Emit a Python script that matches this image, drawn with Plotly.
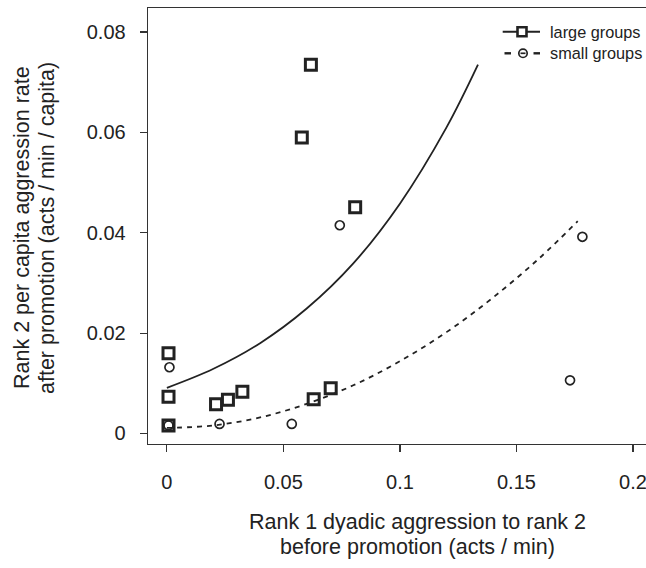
import plotly.graph_objects as go

# Large groups (squares)
large_x = [0.0007, 0.0007, 0.0007, 0.0211, 0.0262, 0.0324, 0.0630, 0.0703, 0.0618, 0.0579, 0.0808]
large_y = [0.0160, 0.0073, 0.0016, 0.0058, 0.0067, 0.0083, 0.0068, 0.0090, 0.0735, 0.0590, 0.0451]

# Small groups (circles)
small_x = [0.0011, 0.0007, 0.0226, 0.0536, 0.0742, 0.1783, 0.1730]
small_y = [0.0132, 0.0016, 0.0019, 0.0019, 0.0415, 0.0392, 0.0106]

# Fitted curves at regular x steps
fit_large_x = [0.0, 0.02, 0.04, 0.06, 0.08, 0.10, 0.12, 0.1335]
fit_large_y = [0.0091, 0.0129, 0.0180, 0.0249, 0.0339, 0.0458, 0.0610, 0.0735]
fit_small_x = [0.0, 0.02, 0.04, 0.06, 0.08, 0.10, 0.12, 0.14, 0.16, 0.1763]
fit_small_y = [0.0011, 0.0016, 0.0032, 0.0059, 0.0096, 0.0144, 0.0202, 0.0271, 0.0350, 0.0423]

x_ticks = [0, 0.05, 0.1, 0.15, 0.2]
x_tick_labels = ["0", "0.05", "0.1", "0.15", "0.2"]
y_ticks = [0, 0.02, 0.04, 0.06, 0.08]
y_tick_labels = ["0", "0.02", "0.04", "0.06", "0.08"]
legend_labels = ["large groups", "small groups"]

INK = "#222222"
FONT = "Liberation Sans, Arial, sans-serif"

fig = go.Figure()
fig.add_trace(go.Scatter(x=fit_large_x, y=fit_large_y, mode="lines",
                         line=dict(color=INK, width=1.8, shape="spline", smoothing=1), showlegend=False))
fig.add_trace(go.Scatter(x=fit_small_x, y=fit_small_y, mode="lines",
                         line=dict(color=INK, width=1.8, dash="5px,5px", shape="spline", smoothing=1), showlegend=False))
fig.add_trace(go.Scatter(x=large_x, y=large_y, mode="markers",
                         marker=dict(symbol="square-open", size=11, color=INK, line=dict(width=3, color=INK)), showlegend=False))
fig.add_trace(go.Scatter(x=small_x, y=small_y, mode="markers",
                         marker=dict(symbol="circle-open", size=9, color=INK, line=dict(width=1.7, color=INK)), showlegend=False))

W, H = 646, 568
L, R, T, B = 148, 0, 8, 124
pw = W - L - R
ph = H - T - B

fig.update_layout(
    template="none",
    width=W, height=H,
    margin=dict(l=L, r=R, t=T, b=B, pad=0, autoexpand=False),
    paper_bgcolor="white", plot_bgcolor="white",
    font=dict(family=FONT, color=INK, size=20),
    showlegend=False,
    hovermode=False,
    xaxis=dict(range=[-0.0081, 0.2056], tickvals=x_ticks, ticktext=x_tick_labels, automargin=False,
               showgrid=False, zeroline=False, showline=True, mirror=True, linecolor="#333", linewidth=1.3,
               ticks="outside", ticklen=7, tickwidth=1.2, tickcolor="#333", ticklabelstandoff=13,
               ticklabeloverflow="allow", tickfont=dict(size=20, color=INK)),
    yaxis=dict(range=[-0.0021, 0.0848], tickvals=y_ticks, ticktext=y_tick_labels, automargin=False,
               showgrid=False, zeroline=False, showline=True, mirror=False, linecolor="#333", linewidth=1.3,
               ticks="outside", ticklen=7, tickwidth=1.2, tickcolor="#333", ticklabelstandoff=10,
               ticklabeloverflow="allow", tickfont=dict(size=20, color=INK)),
)

def px(xpix):  # window pixel -> paper x
    return (xpix - L) / pw

def py(ypix):  # window pixel -> paper y
    return 1 - (ypix - T) / ph

TF = 21.5
fig.add_annotation(text="Rank 1 dyadic aggression to rank 2", xref="paper", yref="paper",
                   x=px(417), y=py(521.7), showarrow=False, font=dict(size=TF, color=INK),
                   xanchor="center", yanchor="middle")
fig.add_annotation(text="before promotion (acts / min)", xref="paper", yref="paper",
                   x=px(417), y=py(547), showarrow=False, font=dict(size=TF, color=INK),
                   xanchor="center", yanchor="middle")
fig.add_annotation(text="Rank 2 per capita aggression rate", xref="paper", yref="paper",
                   x=px(22), y=py(228), showarrow=False, textangle=-90, font=dict(size=TF, color=INK),
                   xanchor="center", yanchor="middle")
fig.add_annotation(text="after promotion (acts / min / capita)", xref="paper", yref="paper",
                   x=px(47), y=py(228), showarrow=False, textangle=-90, font=dict(size=TF, color=INK),
                   xanchor="center", yanchor="middle")

# Hand-drawn legend (top right)
row_y = [31.7, 53.3]
fig.add_shape(type="line", xref="paper", yref="paper", x0=px(502.7), x1=px(540), y0=py(row_y[0]), y1=py(row_y[0]),
              line=dict(color=INK, width=2))
fig.add_shape(type="rect", xref="paper", yref="paper", xsizemode="pixel", ysizemode="pixel",
              xanchor=px(522), yanchor=py(row_y[0]), x0=-4.5, x1=4.5, y0=-4.5, y1=4.5,
              line=dict(color=INK, width=2.6), fillcolor="white")
fig.add_shape(type="line", xref="paper", yref="paper", x0=px(504.5), x1=px(511), y0=py(row_y[1]), y1=py(row_y[1]),
              line=dict(color=INK, width=2.4))
fig.add_shape(type="line", xref="paper", yref="paper", x0=px(533.5), x1=px(540), y0=py(row_y[1]), y1=py(row_y[1]),
              line=dict(color=INK, width=2.4))
fig.add_shape(type="circle", xref="paper", yref="paper", xsizemode="pixel", ysizemode="pixel",
              xanchor=px(523), yanchor=py(row_y[1]), x0=-4.2, x1=4.2, y0=-4.2, y1=4.2,
              line=dict(color=INK, width=1.7), fillcolor="white")
fig.add_shape(type="line", xref="paper", yref="paper", x0=px(520.5), x1=px(525.5), y0=py(row_y[1]), y1=py(row_y[1]),
              line=dict(color=INK, width=1.7))
for lab, yy in zip(legend_labels, row_y):
    fig.add_annotation(text=lab, xref="paper", yref="paper", x=px(548), y=py(yy), showarrow=False,
                       xanchor="left", yanchor="middle", font=dict(size=16.3, color=INK))

fig.write_html("out.html",
               config={"displayModeBar": False, "staticPlot": True},
               post_script="document.documentElement.style.overflow='hidden';"
                           "document.body.style.margin='0px';document.body.style.overflow='hidden';")
